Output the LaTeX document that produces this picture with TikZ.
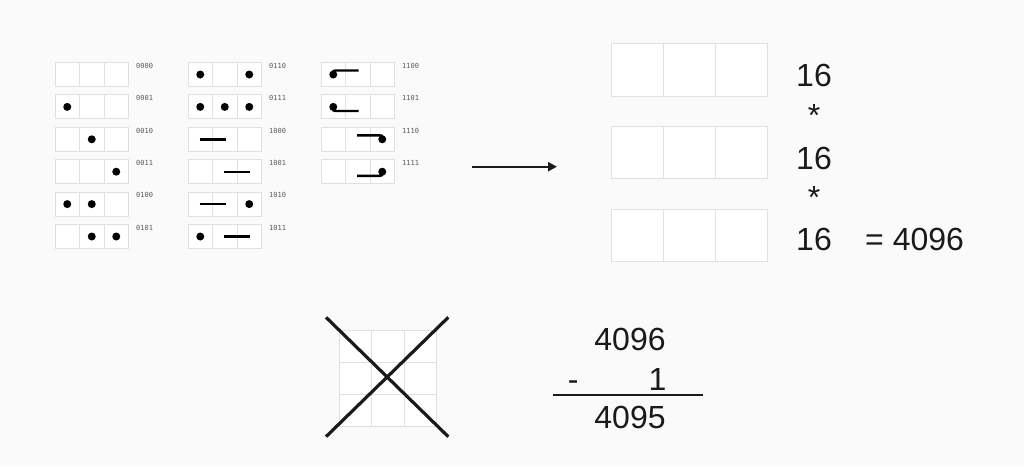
\documentclass[tikz,border=0pt]{standalone}
\usepackage{fontspec}
\setmainfont{Liberation Sans}
\setmonofont{DejaVu Sans Mono}
\usetikzlibrary{arrows.meta}
\definecolor{bg}{HTML}{FAFAFA}
\definecolor{cellline}{HTML}{E0E0E0}
\definecolor{labelgray}{HTML}{5A5A5A}
\definecolor{ink}{HTML}{1A1A1A}
\newcommand\sgrid[4]{% name, x, y, label
  \foreach \i in {0,1,2} \draw[cell] (#2+\i*24.5,#3) rectangle ++(24.5,24);
  \node[codelabel] (#1) at (#2+81,#3+3.2) {#4};
}
\newcommand\sdot[3]{\fill[black] (#1+12.25+#2*24.5,#3+12) circle (4);}
\newcommand\sbar[3]{\draw[bar] (#1+11.5+#2*24.5,#3+12) -- ++(26,0);}
\begin{document}
\begin{tikzpicture}[x=1pt,y=-1pt,
  cell/.style={draw=cellline, fill=white, line width=0.9pt},
  bar/.style={line width=2.4pt, black},
  codelabel/.style={font=\ttfamily\fontsize{7}{8}\selectfont, text=labelgray, inner sep=0pt, anchor=west},
  bignum/.style={font=\fontsize{32}{36}\selectfont, text=ink, inner sep=0pt},
  bigcell/.style={draw=cellline, fill=white, line width=1pt}]
\fill[bg] (0,0) rectangle (1024,466);
% column 1
\sgrid{l0000}{55}{62.5}{0000}
\sgrid{l0001}{55}{94.9}{0001}   \sdot{55}{0}{94.9}
\sgrid{l0010}{55}{127.3}{0010}  \sdot{55}{1}{127.3}
\sgrid{l0011}{55}{159.7}{0011}  \sdot{55}{2}{159.7}
\sgrid{l0100}{55}{192.1}{0100}  \sdot{55}{0}{192.1}\sdot{55}{1}{192.1}
\sgrid{l0101}{55}{224.5}{0101}  \sdot{55}{1}{224.5}\sdot{55}{2}{224.5}
% column 2
\sgrid{l0110}{188}{62.5}{0110}  \sdot{188}{0}{62.5}\sdot{188}{2}{62.5}
\sgrid{l0111}{188}{94.9}{0111}  \sdot{188}{0}{94.9}\sdot{188}{1}{94.9}\sdot{188}{2}{94.9}
\sgrid{l1000}{188}{127.3}{1000} \sbar{188}{0}{127.3}
\sgrid{l1001}{188}{159.7}{1001} \sbar{188}{1}{159.7}
\sgrid{l1010}{188}{192.1}{1010} \sbar{188}{0}{192.1}\sdot{188}{2}{192.1}
\sgrid{l1011}{188}{224.5}{1011} \sdot{188}{0}{224.5}\sbar{188}{1}{224.5}
% column 3
\sgrid{l1100}{321}{62.5}{1100}
\sgrid{l1101}{321}{94.9}{1101}
\sgrid{l1110}{321}{127.3}{1110}
\sgrid{l1111}{321}{159.7}{1111}
% hooks
\draw[bar] (358.5,70.5) -- (336,70.5) .. controls (333.25,70.5) .. (333.25,74.5);
\fill[black] (333.25,74.5) circle (4);
\draw[bar] (358.5,111) -- (336,111) .. controls (333.25,111) .. (333.25,106.9);
\fill[black] (333.25,106.9) circle (4);
\draw[bar] (357,135.3) -- (379.5,135.3) .. controls (382.25,135.3) .. (382.25,139.3);
\fill[black] (382.25,139.3) circle (4);
\draw[bar] (357,175.8) -- (379.5,175.8) .. controls (382.25,175.8) .. (382.25,171.7);
\fill[black] (382.25,171.7) circle (4);
% arrow
\coordinate (arrS) at (471.7,166.7);
\coordinate (arrE) at (557,166.7);
\draw[line width=2.4pt, ink, -{Triangle[length=9pt,width=9pt]}] (arrS) -- (arrE);
% big boxes
\foreach \r/\y in {1/43.5,2/126.2,3/209} {
  \foreach \i in {0,1,2} \draw[bigcell] (611.7+\i*51.9,\y) rectangle ++(51.9,52.6);
}
\node[bignum, anchor=base] (n1) at (814,86.7) {16};
\node[bignum, anchor=base] (s1) at (814,126) {*};
\node[bignum, anchor=base] (n2) at (814,169.3) {16};
\node[bignum, anchor=base] (s2) at (814,208) {*};
\node[bignum, anchor=base] (n3) at (814,250.7) {16};
\node[bignum, anchor=base west] (eq) at (865,250.7) {= 4096};
% crossed grid
\foreach \i in {0,1,2} \foreach \j in {0,1,2}
  \draw[cell] (339.3+\i*32.45,330+\j*32.25) rectangle ++(32.45,32.25);
\coordinate (xa) at (326,317.3);
\coordinate (xb) at (448.3,436.7);
\coordinate (xc) at (326,436.7);
\coordinate (xd) at (448.3,317.3);
\draw[line width=3.2pt, ink] (xa) -- (xb);
\draw[line width=3.2pt, ink] (xc) -- (xd);
% subtraction
\node[bignum, anchor=base] (top) at (630,350) {4096};
\node[bignum, anchor=base] (minus) at (573.3,390) {-};
\node[bignum, anchor=base east] (one) at (666.5,390) {1};
\coordinate (ruleL) at (553.3,395);
\coordinate (ruleR) at (703.3,395);
\draw[line width=2.8pt, ink] (ruleL) -- (ruleR);
\node[bignum, anchor=base] (res) at (630,428.3) {4095};
\end{tikzpicture}
\end{document}
